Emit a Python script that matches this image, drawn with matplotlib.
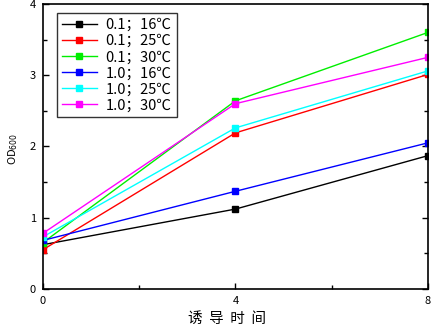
import matplotlib
matplotlib.use("Agg")
import matplotlib.pyplot as plt
from matplotlib.ticker import MultipleLocator

plt.rcParams['font.family'] = ['Noto Sans CJK SC', 'DejaVu Sans']

time = [0, 4, 8]
labels = ["0.1；16℃", "0.1；25℃", "0.1；30℃", "1.0；16℃", "1.0；25℃", "1.0；30℃"]
s_01_16 = [0.62, 1.12, 1.87]
s_01_25 = [0.55, 2.19, 3.01]
s_01_30 = [0.65, 2.64, 3.60]
s_10_16 = [0.68, 1.37, 2.05]
s_10_25 = [0.73, 2.26, 3.06]
s_10_30 = [0.78, 2.60, 3.25]
colors = ["black", "red", "#00ee00", "blue", "cyan", "magenta"]

fig = plt.figure(figsize=(4.34, 3.29), dpi=100)
ax = fig.add_axes([0.099, 0.122, 0.887, 0.866])

for ys, c, lab in zip([s_01_16, s_01_25, s_01_30, s_10_16, s_10_25, s_10_30], colors, labels):
    ax.plot(time, ys, color=c, lw=1.0, marker='s', ms=4.5, mec=c, mfc=c, label=lab)

ax.set_xlim(0, 8)
ax.set_ylim(0, 4)
ax.set_xticks([0, 4, 8])
ax.set_yticks([0, 1, 2, 3, 4])
ax.xaxis.set_minor_locator(MultipleLocator(2))
ax.yaxis.set_minor_locator(MultipleLocator(0.5))
ax.tick_params(which='both', direction='in', top=False, right=True, labelsize=8, width=1)
ax.tick_params(which='major', length=4, pad=5)
ax.tick_params(which='minor', length=3)
for sp in ax.spines.values():
    sp.set_linewidth(1.2)

ax.set_xlabel("诱  导  时  间", fontsize=10.5)
ax.xaxis.set_label_coords(0.477, -0.082)
ax.set_ylabel("OD$_{600}$", fontsize=8)
ax.yaxis.set_label_coords(-0.06, 0.49)

leg = ax.legend(loc='upper left', bbox_to_anchor=(0.036, 0.968), fontsize=10.5, frameon=True,
                fancybox=False, edgecolor='black', handlelength=2.4, handletextpad=0.6,
                labelspacing=0.14, borderpad=0.35, borderaxespad=0.0)
leg.get_frame().set_linewidth(1.0)

fig.savefig("out.png", dpi=100)
